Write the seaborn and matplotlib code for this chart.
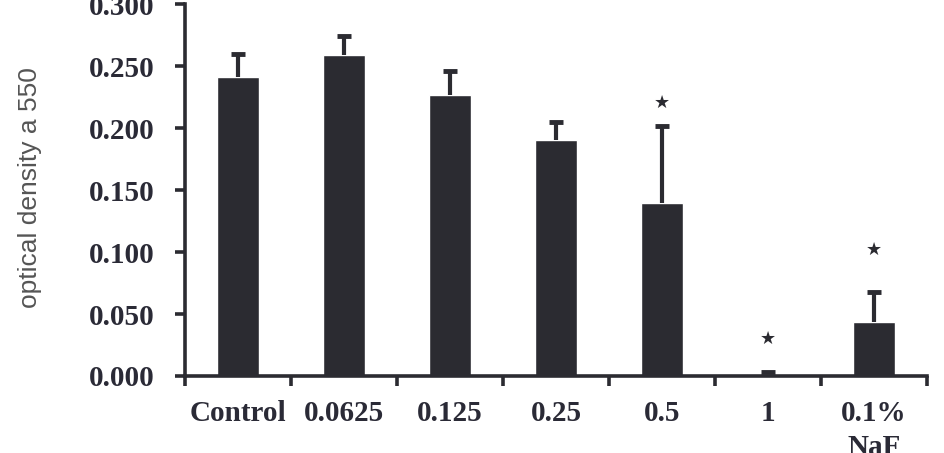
import numpy as np
import pandas as pd
import seaborn as sns
import matplotlib.pyplot as plt

# values
groups = ["Control", "0.0625", "0.125", "0.25", "0.5", "1", "0.1%\nNaF"]
od_mean = [0.241, 0.259, 0.227, 0.190, 0.1395, 0.002, 0.0435]
od_err = [0.019, 0.015, 0.019, 0.015, 0.062, 0.001, 0.0245]
significant = [False, False, False, False, True, True, True]
star_y = [None, None, None, None, 0.220, 0.030, 0.1015]
y_ticks = [0.000, 0.050, 0.100, 0.150, 0.200, 0.250, 0.300]

bar_color = "#2b2b31"
text_color = "#2a2a36"

sns.set_style("white")
plt.rcParams["font.family"] = ["Liberation Serif", "DejaVu Serif"]

df = pd.DataFrame({"group": groups, "od": od_mean})

fig = plt.figure(figsize=(9.45, 4.53), dpi=100)
ax = fig.add_axes([0.1958, 0.170, 0.785, 0.821])

sns.barplot(data=df, x="group", y="od", color=bar_color, width=0.39,
            errorbar=None, saturation=1, ax=ax)

xpos = np.arange(len(groups))
_, caps, _ = ax.errorbar(xpos, od_mean, yerr=[np.zeros(len(groups)), od_err],
                         fmt="none", ecolor=bar_color, elinewidth=3,
                         capsize=5, capthick=3.5, zorder=3)
# only the upper cap is shown
caps[0].set_visible(False)

for x, sig, sy in zip(xpos, significant, star_y):
    if sig:
        ax.text(x, sy, "★", ha="center", va="center", fontsize=13,
                color=bar_color, family=["DejaVu Sans"])

ax.set_xlim(-0.5, len(groups) - 0.5)
ax.set_ylim(0, 0.300)
ax.set_yticks(y_ticks)
ax.set_yticklabels([f"{v:.3f}" for v in y_ticks], fontsize=21,
                   fontweight="bold", color=text_color)

# category labels at bar centres, tick marks at the category boundaries
ax.set_xticks(xpos)
ax.set_xticklabels(groups, fontsize=21, fontweight="bold", color=text_color,
                   linespacing=1.35, va="top")
ax.set_xticks(np.arange(-0.5, len(groups)), minor=True)
ax.tick_params(axis="x", which="major", bottom=True, length=0, pad=17)
ax.tick_params(axis="x", which="minor", bottom=True, length=7, width=2.6,
               color=bar_color, direction="out")
ax.tick_params(axis="y", left=True, length=7, width=2.6, color=bar_color,
               direction="out", pad=15)

for side in ["top", "right"]:
    ax.spines[side].set_visible(False)
for side in ["left", "bottom"]:
    ax.spines[side].set_linewidth(2.6)
    ax.spines[side].set_color(bar_color)
    ax.spines[side].set_capstyle("projecting")

ax.set_xlabel("")
ax.set_ylabel("")
fig.text(0.032, 0.585, "optical density a 550", rotation=90, ha="center",
         va="center", fontsize=19, color="#555555",
         family=["Liberation Sans", "DejaVu Sans"])

fig.savefig("out.png", dpi=100)
